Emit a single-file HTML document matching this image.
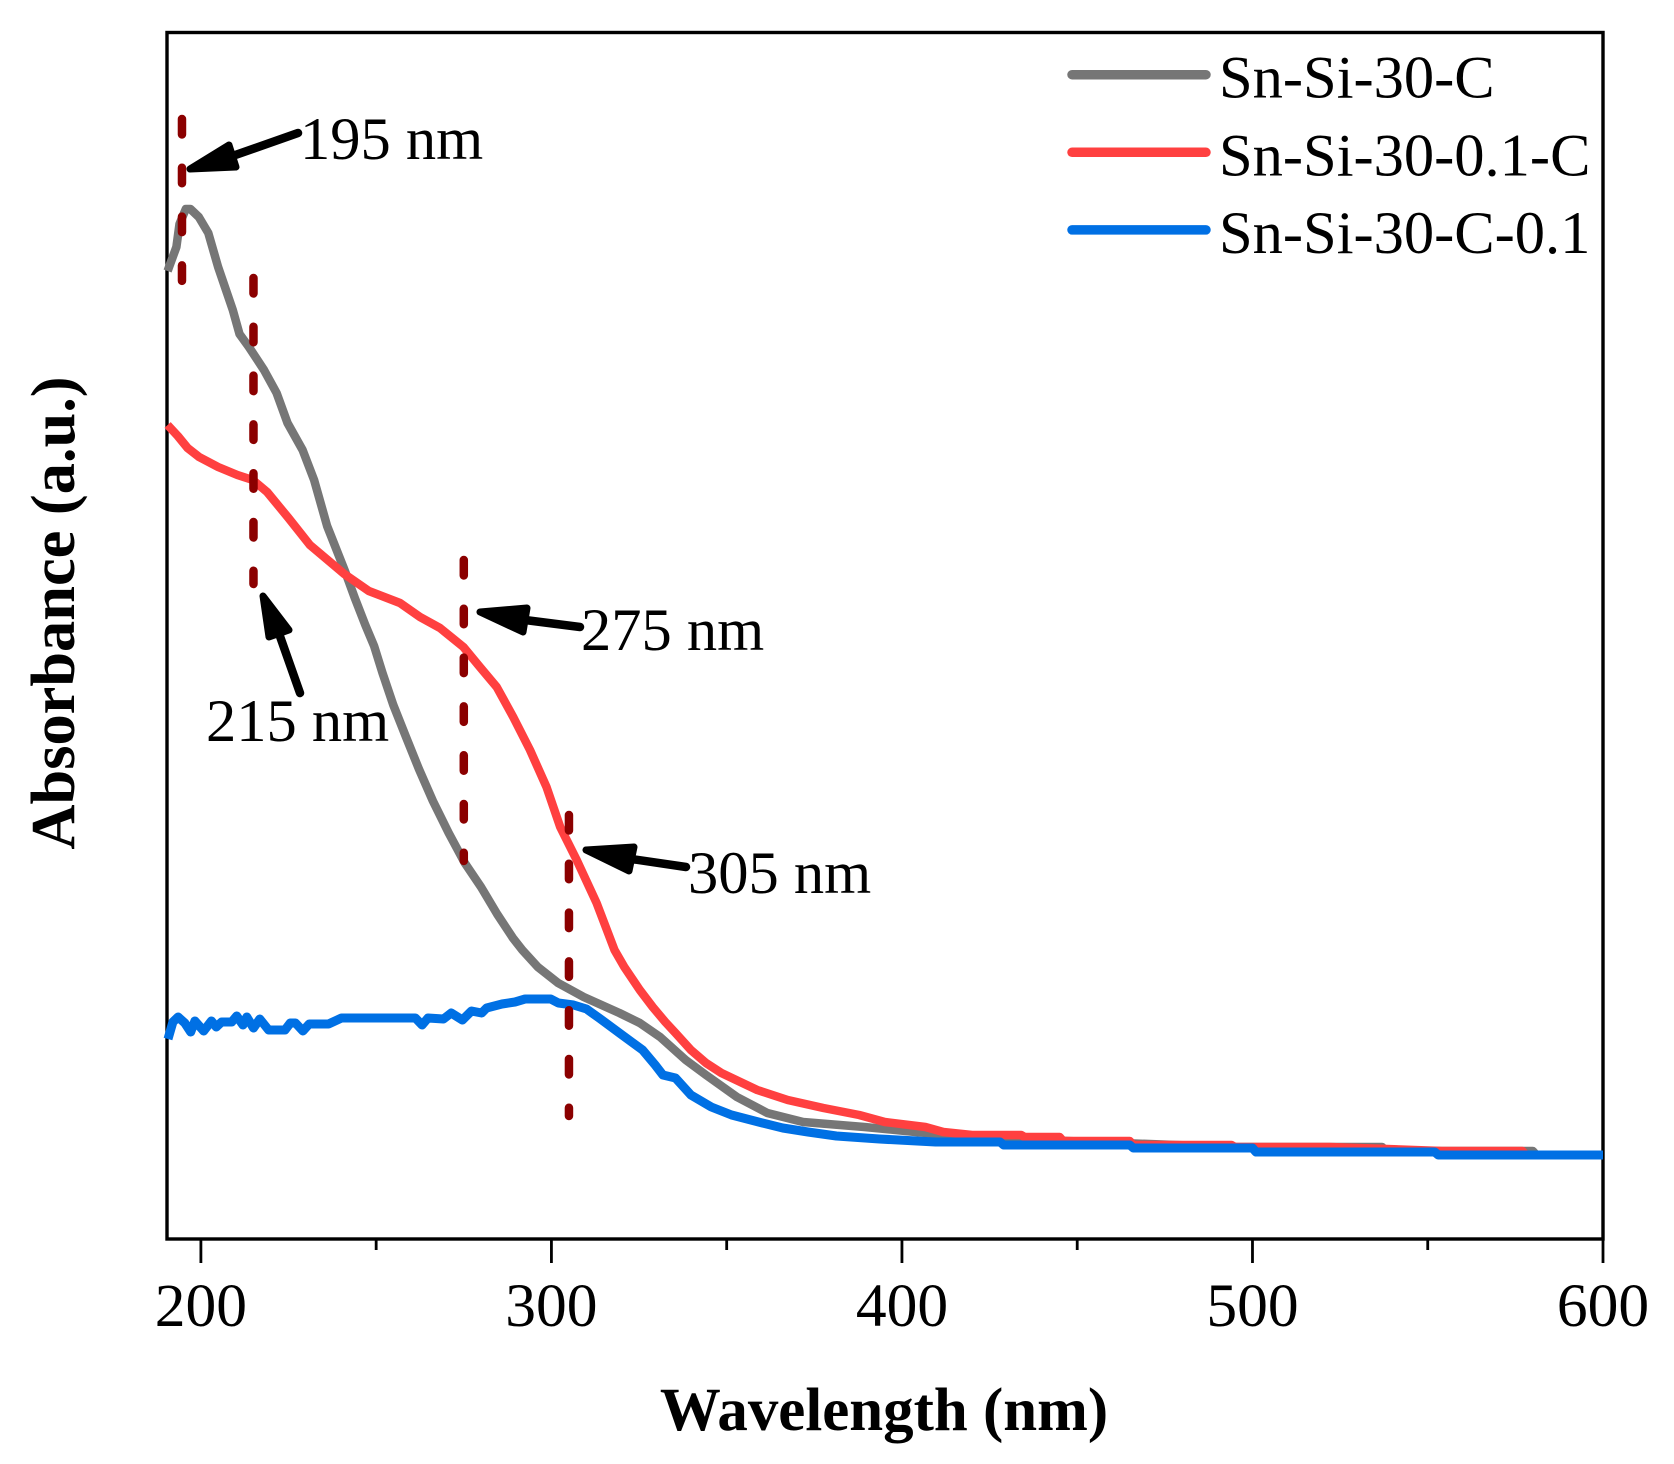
<!DOCTYPE html>
<html>
<head>
<meta charset="utf-8">
<title>Absorbance vs Wavelength</title>
<style>
html,body{margin:0;padding:0;background:#fff;}
svg{display:block;}
text{font-family:"Liberation Serif",serif;fill:#000;}
</style>
</head>
<body>
<svg id="chart" width="1674" height="1464" viewBox="0 0 1674 1464" xmlns="http://www.w3.org/2000/svg">
  <rect x="0" y="0" width="1674" height="1464" fill="#fff"/>
  <g id="axes-layer"></g>
  <g id="series-layer"></g>
  <g id="peak-layer"></g>
  <g id="legend-layer"></g>
  <text x="884" y="1430" text-anchor="middle" font-size="60.9" font-weight="bold">Wavelength (nm)</text>
  <text transform="translate(74 613) rotate(-90)" text-anchor="middle" font-size="62.4" font-weight="bold">Absorbance (a.u.)</text>
</svg>
<script>
const majorTicks = [200, 300, 400, 500, 600];
const minorTicks = [250, 350, 450, 550];
const seriesNames = ["Sn-Si-30-C", "Sn-Si-30-0.1-C", "Sn-Si-30-C-0.1"];
const peakWavelengths = [194.6, 215, 275, 305];
const peakLabels = ["195 nm", "215 nm", "275 nm", "305 nm"];

const grayWavelengths = [190.5,193,193.9,195.7,197,199.4,202.1,204.9,209.1,211,213.7,218,221.6,224.7,229,232.3,236,238.7,241.2,243.9,246.9,249.4,251.8,254.9,258.5,262.2,266.2,270.7,275.3,279.9,284.5,289,291.7,296.1,301.9,309.2,319.4,325.2,331,338.3,344.1,352.9,361.6,371.8,389.3,403.8,417,447,478,495,537,538,580,581,600];
const grayValues = [968,992,1015,1030,1030,1022,1006,972,929,905,892,869,846,816,789,759,713,689,667,641,614,593,566,534,502,470,438,406,376,352,325,301,289,272,256,242,226,216,202,179,164,142,126,117,112,107,103,98,94,92,92,88,88,84,84];

const redWavelengths = [190.5,193.4,196.2,199.5,204.9,210.4,214.8,218.9,225,231.1,240.9,247.9,256.8,262.5,268.2,274.9,279.6,284.4,289.1,293.9,298.6,302.5,307.2,312.9,318,320.8,325.2,328.9,332.5,335.4,339.8,344.1,348.5,358.7,367.4,377.6,387.8,395.1,406.7,411.8,420,434,435,445,446,465,466,494,495,522,554,577,578,600];
const redValues = [814,803,791,782,772,764,759,747,721,694,665,648,636,622,611,592,572,552,522,489,452,412,379,336,289,272,249,232,217,206,189,176,166,149,139,131,124,117,112,107,104,104,102,102,98,98,94,94,92,92,88,88,84,84];

const blueWavelengths = [190.6,192,193.5,195.4,197.1,198.3,200.8,203,204.4,205.9,208.8,210.2,212,213.1,215,216.8,219.3,224,225.5,227,229.1,230.9,236.4,240.1,261.2,263.1,264.8,269.2,271.4,274.6,277.2,280.1,281.5,285.9,289.6,292.5,299.8,302,306.3,310,313.6,319.4,326,329.6,331.8,335.4,339.8,345.6,351.4,360.2,366,373.2,381.3,393.6,409.6,428,429,465,466,500,501,552,553,600];
const blueValues = [200,217,222,216,207,218,208,218,212,217,217,223,214,222,211,220,209,209,216,216,208,215,215,221,221,214,221,220,226,219,228,226,231,235,237,240,240,236,234,230,221,206,189,174,164,161,144,132,124,116,111,107,103,100,97,97,94,94,91,91,87,87,84,84];

const NS = "http://www.w3.org/2000/svg";
const plot = { left: 167, right: 1603, top: 32.5, bottom: 1239 };

function x(w) { return 200.9 + (w - 200) * (1603 - 200.9) / (600 - 200); }
function y(v) { return plot.bottom - v * (plot.bottom - plot.top) / 1206.5; }

function make(tag, attrs, parent) {
  const el = document.createElementNS(NS, tag);
  for (const k in attrs) el.setAttribute(k, attrs[k]);
  parent.appendChild(el);
  return el;
}

const axes = document.getElementById("axes-layer");
const series = document.getElementById("series-layer");
const peaks = document.getElementById("peak-layer");
const legend = document.getElementById("legend-layer");

const frame = make("rect", { x: plot.left, y: plot.top, width: plot.right - plot.left, height: plot.bottom - plot.top, fill: "none", stroke: "#000", "stroke-width": 3.4 }, axes);



majorTicks.forEach(function (t) {
  const tick = make("line", { x1: x(t), x2: x(t), y1: plot.bottom, y2: 1263, stroke: "#000", "stroke-width": 2.8 }, axes);
  
  
  const label = make("text", { x: x(t), y: 1326, "text-anchor": "middle", "font-size": 61.5 }, axes);
  
  
  label.textContent = String(t);
});
minorTicks.forEach(function (t) {
  const tick = make("line", { x1: x(t), x2: x(t), y1: plot.bottom, y2: 1250, stroke: "#000", "stroke-width": 2.8 }, axes);
  
  
});

function linePath(ws, vs) {
  return ws.map(function (w, i) { return (i ? "L" : "M") + x(w).toFixed(1) + " " + y(vs[i]).toFixed(1); }).join("");
}

const grayLine = make("path", { d: linePath(grayWavelengths, grayValues), fill: "none", stroke: "#767676", "stroke-width": 8.5, "stroke-linejoin": "round" }, series);



const redLine = make("path", { d: linePath(redWavelengths, redValues), fill: "none", stroke: "#FF4040", "stroke-width": 8.5, "stroke-linejoin": "round" }, series);



const blueLine = make("path", { d: linePath(blueWavelengths, blueValues), fill: "none", stroke: "#0070E4", "stroke-width": 9, "stroke-linejoin": "round" }, series);



function peakLine(i, top, bottom) {
  const el = make("line", { x1: x(peakWavelengths[i]), x2: x(peakWavelengths[i]), y1: top, y2: bottom, stroke: "#8B0000", "stroke-width": 8.5, "stroke-linecap": "round", "stroke-dasharray": "15.5 33.3" }, peaks);
  
  
}
function arrow(tail, tip, b1, b2) {
  const shaft = make("line", { x1: tail[0], y1: tail[1], x2: (b1[0] + b2[0]) / 2, y2: (b1[1] + b2[1]) / 2, stroke: "#000", "stroke-width": 8.5, "stroke-linecap": "round" }, peaks);
  
  
  const head = make("polygon", { points: [tip, b1, b2].map(function (p) { return p.join(","); }).join(" "), fill: "#000", stroke: "#000", "stroke-width": 7, "stroke-linejoin": "round" }, peaks);
  
  
}
function peakText(i, px, py) {
  const el = make("text", { x: px, y: py, "font-size": 60.5 }, peaks);
  
  
  el.textContent = peakLabels[i];
}

peakLine(0, 119, 282);
peakLine(1, 278, 584);
peakLine(2, 560, 861);
peakLine(3, 815, 1116);

arrow([298, 133], [190, 169], [229, 145], [236, 167]);
arrow([300, 693], [263, 596], [289, 630], [269, 637]);
arrow([580, 627], [480, 612], [527, 608], [523, 632]);
arrow([686, 867], [586, 850], [634, 847], [629, 871]);

peakText(0, 300, 159);
peakText(1, 206, 741);
peakText(2, 581, 650);
peakText(3, 688, 893);

const legendColors = ["#767676", "#FF4040", "#0070E4"];
seriesNames.forEach(function (name, i) {
  const ly = 74.7 + i * 77.6;
  const swatch = make("line", { x1: 1072, x2: 1206, y1: ly, y2: ly, stroke: legendColors[i], "stroke-width": 9.5, "stroke-linecap": "round" }, legend);
  
  
  const label = make("text", { x: 1219, y: ly + 23, "font-size": 60.5 }, legend);
  
  
  label.textContent = name;
});
</script>
</body>
</html>
